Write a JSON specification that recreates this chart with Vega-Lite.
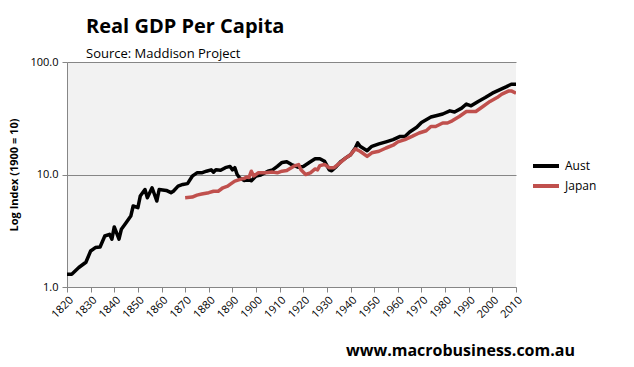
{
  "$schema": "https://vega.github.io/schema/vega-lite/v6.json",
  "width": 449,
  "height": 225,
  "autosize": "none",
  "padding": {"left": 67, "top": 62, "right": 118, "bottom": 80},
  "background": "white",
  "config": {
    "font": "Open Sans",
    "view": {"fill": "#f2f2f2", "stroke": null}
  },
  "title": {
    "text": "Real GDP Per Capita",
    "subtitle": "Source: Maddison Project",
    "anchor": "start",
    "frame": "group",
    "dx": 19,
    "offset": -5,
    "font": "Open Sans",
    "fontSize": 20,
    "fontWeight": "bold",
    "color": "black",
    "subtitleFont": "Open Sans",
    "subtitleFontSize": 13,
    "subtitleColor": "black",
    "subtitlePadding": 11
  },
  "datasets": {
    "gdp": [
      {"year": 1820, "country": "Aust", "value": 1.30},
      {"year": 1822, "country": "Aust", "value": 1.30},
      {"year": 1825, "country": "Aust", "value": 1.49},
      {"year": 1828, "country": "Aust", "value": 1.66},
      {"year": 1830, "country": "Aust", "value": 2.09},
      {"year": 1832, "country": "Aust", "value": 2.24},
      {"year": 1834, "country": "Aust", "value": 2.27},
      {"year": 1836, "country": "Aust", "value": 2.84},
      {"year": 1838, "country": "Aust", "value": 2.94},
      {"year": 1839, "country": "Aust", "value": 2.66},
      {"year": 1840, "country": "Aust", "value": 3.42},
      {"year": 1842, "country": "Aust", "value": 2.66},
      {"year": 1843, "country": "Aust", "value": 3.26},
      {"year": 1845, "country": "Aust", "value": 3.73},
      {"year": 1847, "country": "Aust", "value": 4.27},
      {"year": 1848, "country": "Aust", "value": 5.25},
      {"year": 1850, "country": "Aust", "value": 5.07},
      {"year": 1851, "country": "Aust", "value": 6.43},
      {"year": 1853, "country": "Aust", "value": 7.36},
      {"year": 1854, "country": "Aust", "value": 6.22},
      {"year": 1856, "country": "Aust", "value": 7.62},
      {"year": 1858, "country": "Aust", "value": 5.81},
      {"year": 1859, "country": "Aust", "value": 7.36},
      {"year": 1862, "country": "Aust", "value": 7.22},
      {"year": 1864, "country": "Aust", "value": 6.89},
      {"year": 1865, "country": "Aust", "value": 7.10},
      {"year": 1867, "country": "Aust", "value": 7.88},
      {"year": 1869, "country": "Aust", "value": 8.16},
      {"year": 1871, "country": "Aust", "value": 8.30},
      {"year": 1873, "country": "Aust", "value": 9.66},
      {"year": 1875, "country": "Aust", "value": 10.35},
      {"year": 1877, "country": "Aust", "value": 10.35},
      {"year": 1879, "country": "Aust", "value": 10.7},
      {"year": 1881, "country": "Aust", "value": 11.0},
      {"year": 1882, "country": "Aust", "value": 10.5},
      {"year": 1883, "country": "Aust", "value": 11.0},
      {"year": 1885, "country": "Aust", "value": 10.9},
      {"year": 1887, "country": "Aust", "value": 11.5},
      {"year": 1889, "country": "Aust", "value": 11.8},
      {"year": 1890, "country": "Aust", "value": 11.0},
      {"year": 1891, "country": "Aust", "value": 11.5},
      {"year": 1892, "country": "Aust", "value": 10.0},
      {"year": 1893, "country": "Aust", "value": 9.34},
      {"year": 1895, "country": "Aust", "value": 8.85},
      {"year": 1897, "country": "Aust", "value": 9.1},
      {"year": 1898, "country": "Aust", "value": 8.8},
      {"year": 1900, "country": "Aust", "value": 9.7},
      {"year": 1902, "country": "Aust", "value": 9.9},
      {"year": 1905, "country": "Aust", "value": 10.7},
      {"year": 1907, "country": "Aust", "value": 11.0},
      {"year": 1909, "country": "Aust", "value": 11.8},
      {"year": 1911, "country": "Aust", "value": 12.8},
      {"year": 1913, "country": "Aust", "value": 12.96},
      {"year": 1915, "country": "Aust", "value": 12.25},
      {"year": 1918, "country": "Aust", "value": 11.6},
      {"year": 1920, "country": "Aust", "value": 11.8},
      {"year": 1923, "country": "Aust", "value": 12.96},
      {"year": 1925, "country": "Aust", "value": 13.8},
      {"year": 1927, "country": "Aust", "value": 13.8},
      {"year": 1929, "country": "Aust", "value": 13.1},
      {"year": 1931, "country": "Aust", "value": 11.0},
      {"year": 1932, "country": "Aust", "value": 10.8},
      {"year": 1934, "country": "Aust", "value": 11.8},
      {"year": 1936, "country": "Aust", "value": 13.1},
      {"year": 1938, "country": "Aust", "value": 14.05},
      {"year": 1940, "country": "Aust", "value": 15.0},
      {"year": 1942, "country": "Aust", "value": 17.2},
      {"year": 1943, "country": "Aust", "value": 19.1},
      {"year": 1944, "country": "Aust", "value": 17.8},
      {"year": 1947, "country": "Aust", "value": 16.3},
      {"year": 1949, "country": "Aust", "value": 17.8},
      {"year": 1952, "country": "Aust", "value": 18.7},
      {"year": 1955, "country": "Aust", "value": 19.5},
      {"year": 1958, "country": "Aust", "value": 20.4},
      {"year": 1961, "country": "Aust", "value": 21.8},
      {"year": 1963, "country": "Aust", "value": 21.8},
      {"year": 1965, "country": "Aust", "value": 23.9},
      {"year": 1968, "country": "Aust", "value": 26.3},
      {"year": 1970, "country": "Aust", "value": 29.0},
      {"year": 1974, "country": "Aust", "value": 32.4},
      {"year": 1977, "country": "Aust", "value": 33.6},
      {"year": 1979, "country": "Aust", "value": 34.5},
      {"year": 1982, "country": "Aust", "value": 36.8},
      {"year": 1984, "country": "Aust", "value": 35.9},
      {"year": 1987, "country": "Aust", "value": 38.9},
      {"year": 1989, "country": "Aust", "value": 42.3},
      {"year": 1991, "country": "Aust", "value": 40.8},
      {"year": 1994, "country": "Aust", "value": 44.6},
      {"year": 1997, "country": "Aust", "value": 48.3},
      {"year": 2000, "country": "Aust", "value": 52.8},
      {"year": 2003, "country": "Aust", "value": 56.5},
      {"year": 2006, "country": "Aust", "value": 60.4},
      {"year": 2008, "country": "Aust", "value": 63.5},
      {"year": 2010, "country": "Aust", "value": 63.5},
      {"year": 1870, "country": "Japan", "value": 6.22},
      {"year": 1873, "country": "Japan", "value": 6.3},
      {"year": 1875, "country": "Japan", "value": 6.56},
      {"year": 1877, "country": "Japan", "value": 6.7},
      {"year": 1880, "country": "Japan", "value": 6.89},
      {"year": 1882, "country": "Japan", "value": 7.1},
      {"year": 1884, "country": "Japan", "value": 7.1},
      {"year": 1886, "country": "Japan", "value": 7.62},
      {"year": 1888, "country": "Japan", "value": 7.88},
      {"year": 1889, "country": "Japan", "value": 8.16},
      {"year": 1891, "country": "Japan", "value": 8.73},
      {"year": 1894, "country": "Japan", "value": 9.16},
      {"year": 1895, "country": "Japan", "value": 9.2},
      {"year": 1896, "country": "Japan", "value": 9.5},
      {"year": 1897, "country": "Japan", "value": 9.4},
      {"year": 1898, "country": "Japan", "value": 10.7},
      {"year": 1899, "country": "Japan", "value": 9.7},
      {"year": 1901, "country": "Japan", "value": 10.35},
      {"year": 1904, "country": "Japan", "value": 10.35},
      {"year": 1907, "country": "Japan", "value": 10.5},
      {"year": 1909, "country": "Japan", "value": 10.35},
      {"year": 1911, "country": "Japan", "value": 10.7},
      {"year": 1913, "country": "Japan", "value": 10.85},
      {"year": 1916, "country": "Japan", "value": 11.85},
      {"year": 1918, "country": "Japan", "value": 12.25},
      {"year": 1919, "country": "Japan", "value": 11.0},
      {"year": 1921, "country": "Japan", "value": 10.0},
      {"year": 1923, "country": "Japan", "value": 10.35},
      {"year": 1925, "country": "Japan", "value": 11.2},
      {"year": 1926, "country": "Japan", "value": 11.0},
      {"year": 1927, "country": "Japan", "value": 12.0},
      {"year": 1929, "country": "Japan", "value": 12.25},
      {"year": 1931, "country": "Japan", "value": 11.5},
      {"year": 1933, "country": "Japan", "value": 11.5},
      {"year": 1936, "country": "Japan", "value": 12.96},
      {"year": 1938, "country": "Japan", "value": 14.05},
      {"year": 1940, "country": "Japan", "value": 15.0},
      {"year": 1942, "country": "Japan", "value": 16.9},
      {"year": 1944, "country": "Japan", "value": 16.1},
      {"year": 1947, "country": "Japan", "value": 14.5},
      {"year": 1949, "country": "Japan", "value": 15.6},
      {"year": 1952, "country": "Japan", "value": 16.1},
      {"year": 1955, "country": "Japan", "value": 17.2},
      {"year": 1958, "country": "Japan", "value": 18.2},
      {"year": 1960, "country": "Japan", "value": 19.5},
      {"year": 1963, "country": "Japan", "value": 20.4},
      {"year": 1966, "country": "Japan", "value": 21.8},
      {"year": 1969, "country": "Japan", "value": 23.4},
      {"year": 1972, "country": "Japan", "value": 24.5},
      {"year": 1974, "country": "Japan", "value": 26.7},
      {"year": 1976, "country": "Japan", "value": 26.7},
      {"year": 1979, "country": "Japan", "value": 28.7},
      {"year": 1981, "country": "Japan", "value": 28.7},
      {"year": 1983, "country": "Japan", "value": 30.0},
      {"year": 1986, "country": "Japan", "value": 32.8},
      {"year": 1989, "country": "Japan", "value": 36.3},
      {"year": 1991, "country": "Japan", "value": 36.3},
      {"year": 1993, "country": "Japan", "value": 36.3},
      {"year": 1996, "country": "Japan", "value": 40.2},
      {"year": 1999, "country": "Japan", "value": 44.6},
      {"year": 2002, "country": "Japan", "value": 48.3},
      {"year": 2004, "country": "Japan", "value": 51.8},
      {"year": 2007, "country": "Japan", "value": 55.3},
      {"year": 2008, "country": "Japan", "value": 55.3},
      {"year": 2010, "country": "Japan", "value": 52.8}
    ]
  },
  "data": {"name": "gdp"},
  "mark": {"type": "line", "strokeWidth": 3.5, "strokeJoin": "round", "clip": true},
  "encoding": {
    "x": {
      "field": "year",
      "type": "quantitative",
      "scale": {"domain": [1820, 2010], "nice": false, "zero": false},
      "axis": {
        "values": [1820, 1830, 1840, 1850, 1860, 1870, 1880, 1890, 1900, 1910, 1920, 1930, 1940, 1950, 1960, 1970, 1980, 1990, 2000, 2010],
        "format": "d",
        "labelAngle": -45,
        "labelFont": "Open Sans",
        "labelFontSize": 11,
        "labelColor": "black",
        "labelFlush": false,
        "labelOverlap": false,
        "grid": false,
        "domainColor": "#868686",
        "tickColor": "#868686",
        "tickSize": 5,
        "title": "www.macrobusiness.com.au",
        "titleFont": "Open Sans",
        "titleFontSize": 16,
        "titleFontWeight": "bold",
        "titleColor": "black",
        "titleX": 393,
        "titleY": 68,
        "titleAlign": "center",
        "titleBaseline": "alphabetic"
      }
    },
    "y": {
      "field": "value",
      "type": "quantitative",
      "scale": {"type": "log", "domain": [1, 100], "nice": false},
      "axis": {
        "values": [1, 10, 100],
        "format": ".1f",
        "labelFont": "Open Sans",
        "labelFontSize": 11,
        "labelColor": "black",
        "labelPadding": 4,
        "grid": true,
        "gridColor": "#868686",
        "gridWidth": 1,
        "domainColor": "#868686",
        "tickColor": "#868686",
        "tickSize": 5,
        "title": "Log Index  (1900 = 10)",
        "titleFont": "Open Sans",
        "titleFontSize": 11,
        "titleFontWeight": "bold",
        "titleColor": "black",
        "titlePadding": 10
      }
    },
    "color": {
      "field": "country",
      "type": "nominal",
      "scale": {"domain": ["Aust", "Japan"], "range": ["#000000", "#c0504d"]},
      "legend": {
        "title": null,
        "orient": "none",
        "legendX": 467,
        "legendY": 92,
        "symbolType": "M-1.3,0H1.3",
        "symbolStrokeWidth": 4,
        "symbolSize": 400,
        "labelFont": "Open Sans",
        "labelFontSize": 12,
        "labelColor": "black",
        "labelOffset": 7,
        "rowPadding": -3
      }
    }
  }
}
